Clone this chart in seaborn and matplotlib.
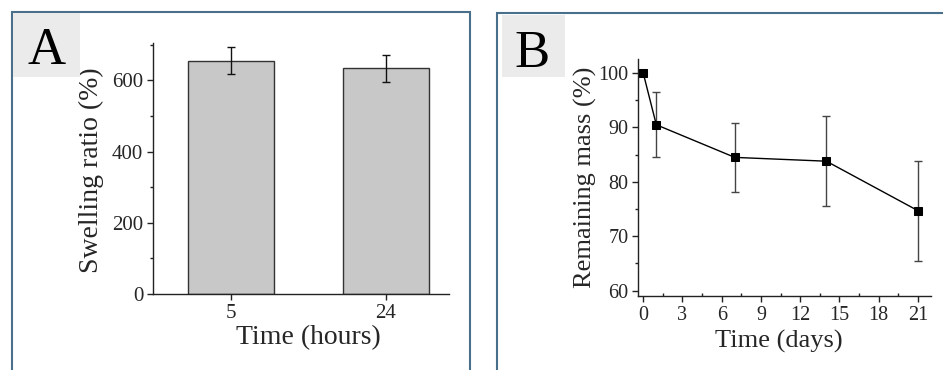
import numpy as np
import matplotlib
matplotlib.use('Agg')
import matplotlib.pyplot as plt
from matplotlib.patches import Rectangle
from matplotlib.ticker import MultipleLocator
import seaborn as sns

# Panel A: swelling ratio
hours = ['5', '24']
swelling = [655, 634]
swelling_err = [38, 38]

# Panel B: degradation
days = [0, 1, 7, 14, 21]
mass = [100, 90.5, 84.5, 83.8, 74.7]
mass_err = [0, 6.0, 6.3, 8.3, 9.2]

sns.set_style('ticks')
plt.rcParams['font.family'] = ['Liberation Serif', 'DejaVu Serif']
plt.rcParams['axes.linewidth'] = 1.0
plt.rcParams['mathtext.fontset'] = 'stix'

W, H = 943, 370
fig = plt.figure(figsize=(W / 100, H / 100), dpi=100)


def px_axes(x0, y0, x1, y1):
    # pixel box (top-left origin) -> figure fraction
    return fig.add_axes([x0 / W, 1 - y1 / H, (x1 - x0) / W, (y1 - y0) / H])


def style_axis(ax, size):
    sns.despine(ax=ax)
    for s in ['left', 'bottom']:
        ax.spines[s].set_color('#222222')
    ax.tick_params(which='major', direction='out', length=4, width=1,
                   labelsize=size, color='#222222', pad=3)
    ax.tick_params(which='minor', direction='out', length=2.5, width=1,
                   color='#222222')


# panel frames
for (x0, y0, x1, y1) in [(12, 12, 470, 372), (497, 13, 945, 372)]:
    fig.patches.append(Rectangle((x0 / W, 1 - y1 / H), (x1 - x0) / W, (y1 - y0) / H,
                                 transform=fig.transFigure, fill=False,
                                 edgecolor='#4a6f8a', linewidth=1.5))

# letter boxes
for (x0, y0, x1, y1, letter, cx, by) in [(13, 13, 80, 77, 'A', 47, 64),
                                          (502, 15, 565, 77, 'B', 532, 67)]:
    fig.patches.append(Rectangle((x0 / W, 1 - y1 / H), (x1 - x0) / W, (y1 - y0) / H,
                                 transform=fig.transFigure, facecolor='#ebebeb',
                                 edgecolor='none'))
    fig.text(cx / W, 1 - by / H, letter, fontsize=38, ha='center', va='baseline',
             color='black')

# ---- A ----
axA = px_axes(153, 43, 449, 294)
sns.barplot(x=hours, y=swelling, ax=axA, color='#c8c8c8', saturation=1,
            width=0.55, edgecolor='#333333', linewidth=1, errorbar=None)
axA.errorbar(np.arange(len(hours)), swelling, yerr=swelling_err, fmt='none',
             ecolor='#111111', elinewidth=1, capsize=3, capthick=1)
axA.set_xlim(-0.503, 1.406)
axA.set_ylim(0, 705)
axA.yaxis.set_major_locator(MultipleLocator(200))
axA.yaxis.set_minor_locator(MultipleLocator(100))
style_axis(axA, 15)
axA.set_xlabel('Time (hours)', fontsize=20)
axA.set_ylabel('Swelling ratio (%)', fontsize=20)
axA.xaxis.set_label_coords(0.524, -0.125)
axA.yaxis.set_label_coords(-0.165, 0.494)

# ---- B ----
axB = px_axes(638, 59, 931, 296)
mask = np.array(mass_err) > 0
axB.errorbar(np.array(days)[mask], np.array(mass)[mask],
             yerr=np.array(mass_err)[mask], fmt='none', ecolor='#444444',
             elinewidth=1, capsize=3, capthick=1, zorder=2)
sns.lineplot(x=days, y=mass, ax=axB, color='black', linewidth=1,
             marker='s', markersize=5.5, markeredgecolor='black', zorder=3)
axB.set_xlim(-0.4, 22)
axB.set_ylim(59, 102.6)
axB.xaxis.set_major_locator(MultipleLocator(3))
axB.xaxis.set_minor_locator(MultipleLocator(1.5))
axB.yaxis.set_major_locator(MultipleLocator(10))
axB.yaxis.set_minor_locator(MultipleLocator(5))
style_axis(axB, 14.5)
axB.tick_params(axis='x', which='minor', direction='in')
axB.set_xlabel('Time (days)', fontsize=19)
axB.set_ylabel('Remaining mass (%)', fontsize=19)
axB.xaxis.set_label_coords(0.481, -0.145)
axB.yaxis.set_label_coords(-0.14, 0.502)

fig.savefig('out.png', dpi=100)
